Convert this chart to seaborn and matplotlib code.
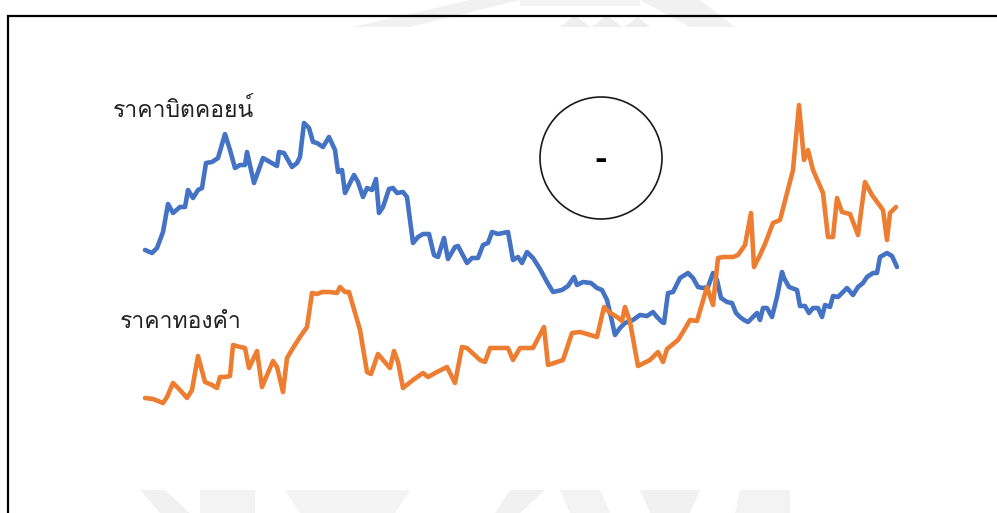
import numpy as np
import pandas as pd
import seaborn as sns
import matplotlib
matplotlib.use("Agg")
import matplotlib.pyplot as plt
from matplotlib import font_manager, ft2font
from matplotlib.patches import Circle, Rectangle, Polygon

# Bitcoin price path (time step, relative level)
btc_t = [0, 7, 12, 18, 23, 28, 35, 40, 43, 48, 53, 57, 61, 67, 73, 80, 85, 90, 95, 100,
         102, 109, 118, 125, 132, 134, 139, 147, 152, 155, 159, 164, 168, 172, 178, 184,
         190, 193, 197, 200, 209, 213, 218, 222, 227, 231, 234, 238, 244, 248, 252, 258,
         262, 268, 273, 278, 284, 289, 293, 299, 303, 310, 313, 322, 327, 333, 338, 343,
         347, 353, 363, 368, 373, 377, 382, 388, 395, 402, 408, 417, 423, 429, 432, 438,
         446, 452, 457, 462, 466, 470, 475, 480, 488, 495, 502, 508, 512, 517, 519, 523,
         528, 535, 543, 548, 553, 558, 563, 568, 572, 576, 582, 587, 591, 595, 599, 603,
         612, 615, 618, 622, 627, 632, 637, 639, 644, 652, 655, 660, 664, 668, 673, 677,
         680, 685, 688, 693, 702, 708, 713, 718, 722, 728, 732, 735, 742, 747, 752]
btc_level = [263, 260, 265, 281, 309, 300, 306, 306, 323, 315, 323, 325, 350, 351, 355,
             379, 363, 345, 348, 348, 361, 330, 355, 351, 347, 361, 360, 346, 350, 356,
             390, 385, 371, 370, 366, 376, 363, 341, 343, 320, 338, 331, 316, 325, 323,
             334, 300, 306, 324, 325, 320, 321, 316, 270, 276, 279, 279, 258, 256, 275,
             254, 266, 267, 250, 255, 255, 268, 270, 281, 279, 281, 253, 256, 250, 261,
             255, 244, 231, 221, 223, 227, 236, 228, 231, 230, 225, 223, 213, 196, 178,
             185, 190, 193, 198, 197, 201, 196, 191, 190, 220, 221, 235, 240, 235, 226,
             225, 226, 240, 233, 215, 211, 210, 200, 196, 193, 191, 200, 193, 205, 205,
             196, 216, 241, 235, 226, 223, 207, 207, 200, 205, 205, 196, 208, 206, 217,
             216, 225, 218, 226, 230, 236, 240, 240, 256, 260, 257, 246]

# Gold price path (time step, relative level)
gold_t = [0, 8, 18, 22, 28, 35, 42, 47, 53, 60, 67, 72, 75, 80, 85, 88, 95, 100, 104,
          112, 117, 128, 132, 138, 142, 148, 155, 162, 167, 172, 177, 185, 192, 195, 200,
          204, 215, 222, 226, 233, 238, 245, 249, 253, 258, 268, 278, 283, 292, 302, 310,
          317, 322, 335, 340, 345, 355, 363, 368, 375, 388, 399, 403, 412, 418, 427, 435,
          442, 452, 459, 464, 472, 477, 480, 485, 493, 505, 513, 518, 522, 533, 538, 545,
          552, 562, 568, 573, 578, 588, 593, 600, 606, 609, 615, 620, 628, 635, 648, 654,
          659, 663, 668, 678, 683, 688, 692, 697, 705, 713, 720, 727, 738, 742, 745, 751]
gold_level = [115, 114, 110, 116, 130, 123, 115, 123, 157, 131, 128, 125, 136, 136, 137,
              168, 166, 165, 145, 162, 126, 152, 146, 121, 155, 165, 176, 186, 220, 219,
              221, 221, 220, 226, 221, 221, 183, 141, 139, 159, 153, 145, 162, 151, 125,
              133, 140, 136, 141, 146, 130, 166, 165, 153, 151, 165, 165, 165, 153, 165,
              165, 186, 148, 151, 153, 180, 181, 179, 176, 206, 201, 196, 192, 206, 191,
              147, 153, 161, 151, 164, 173, 181, 193, 192, 226, 208, 255, 256, 256, 258,
              268, 300, 246, 258, 269, 290, 293, 343, 408, 353, 363, 343, 320, 276, 276,
              315, 301, 299, 278, 331, 318, 303, 273, 300, 306]

btc_label = "ราคาบิตคอยน์"
gold_label = "ราคาทองคำ"
trend_sign = "-"

BLUE = "#4472C4"
ORANGE = "#ED7D31"


def pick_thai_family():
    """Return an installed family with Thai glyphs; looped, regular faces first."""
    found = []
    for f in font_manager.fontManager.ttflist:
        try:
            cmap = ft2font.FT2Font(f.fname).get_charmap()
        except Exception:
            continue
        if 0x0E23 in cmap and 0x0E04 in cmap and 0x0E4C in cmap:
            found.append(f)
    if not found:
        return "DejaVu Sans"
    looped = ("tahoma", "looped", "loma", "garuda", "norasi", "leelawadee")

    def rank(f):
        name = f.name.lower()
        regular = f.weight in (400, "normal", "regular") and f.style == "normal"
        return (0 if any(k in name for k in looped) else 1, 0 if regular else 1)

    return sorted(found, key=rank)[0].name


sns.set_theme(style="white")
thai_font = pick_thai_family()
plt.rcParams["font.family"] = [thai_font, "DejaVu Sans"]

fig = plt.figure(figsize=(9.97, 5.13), dpi=100)
fig.patch.set_facecolor("white")
ax = fig.add_axes([0, 0, 1, 1])
ax.set_xlim(-145, 852)
ax.set_ylim(0, 513)
ax.set_axis_off()


def emblem_piece(points, shade="#f1f1f1"):
    """Faint background emblem piece, points given as (x, y) from the top-left."""
    pts = [(x - 145, 513 - y) for x, y in points]
    ax.add_patch(Polygon(pts, closed=True, fc=shade, ec="none", zorder=0))


# faint background emblem, top arch
emblem_piece([(352, 27), (470, 0), (520, 0), (410, 27)])
emblem_piece([(640, 0), (700, 0), (735, 27), (690, 27)])
emblem_piece([(520, 0), (640, 0), (640, 6), (520, 6)], "#f5f5f5")
emblem_piece([(560, 27), (575, 15), (590, 27)], "#eeeeee")
emblem_piece([(592, 27), (607, 15), (622, 27)], "#eeeeee")
emblem_piece([(624, 27), (638, 17), (650, 27)], "#eeeeee")
# faint background emblem, bottom letters
emblem_piece([(140, 490), (165, 490), (190, 513), (160, 513)])
emblem_piece([(200, 490), (255, 490), (255, 513), (200, 513)], "#f3f3f3")
emblem_piece([(285, 490), (410, 490), (395, 513), (300, 513)], "#f4f4f4")
emblem_piece([(510, 490), (545, 490), (520, 513), (495, 513)])
emblem_piece([(560, 490), (600, 490), (610, 513), (570, 513)], "#f3f3f3")
emblem_piece([(640, 490), (700, 490), (690, 513), (650, 513)])
emblem_piece([(740, 490), (790, 490), (790, 513), (735, 513)], "#f3f3f3")

sns.lineplot(x=btc_t, y=btc_level, ax=ax, color=BLUE, linewidth=3.3,
             estimator=None, sort=False, zorder=3)
sns.lineplot(x=gold_t, y=gold_level, ax=ax, color=ORANGE, linewidth=3.3,
             estimator=None, sort=False, zorder=3)

ax.text(-32, 403, btc_label, fontsize=16.5, color="#222222", va="center", ha="left")
ax.text(-25, 191, gold_label, fontsize=16.5, color="#222222", va="center", ha="left")

# trend marker
ax.add_patch(Circle((456, 355), 61, fill=False, ec="#1a1a1a", lw=1.2, zorder=4))
ax.text(456, 353, trend_sign, fontsize=22, fontweight="bold", color="black",
        ha="center", va="center", family="DejaVu Sans", zorder=5)

# frame
fig.add_artist(Rectangle((8 / 997, -0.1), 1.2, (513 - 16) / 513 + 0.1,
                         transform=fig.transFigure, fill=False, ec="black",
                         lw=1.6, zorder=10))

fig.savefig("out.png", dpi=100, facecolor="white")
